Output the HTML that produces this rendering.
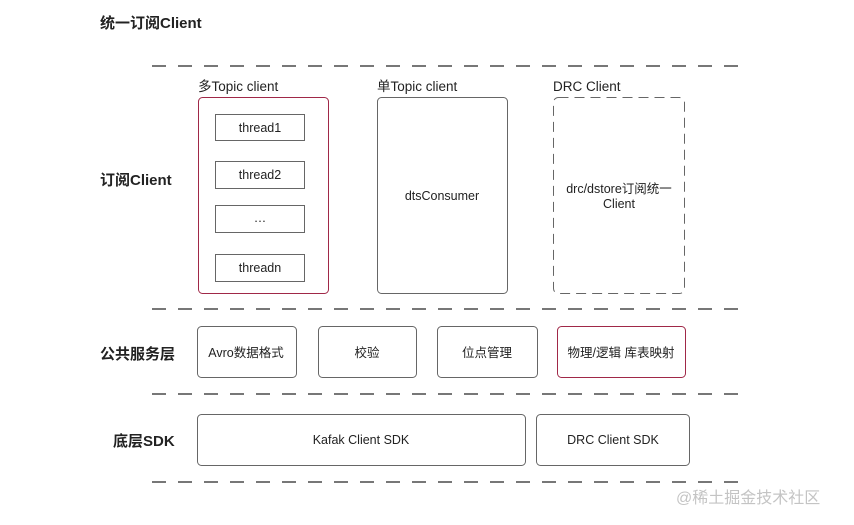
<!DOCTYPE html>
<html><head><meta charset="utf-8"><style>
body{margin:0;background:#fff;width:854px;height:525px;overflow:hidden}
svg{display:block}
text{font-family:"Liberation Sans","Noto Sans CJK SC",sans-serif;fill:#222}
</style></head><body>
<svg width="854" height="525" viewBox="0 0 854 525">
<g stroke="#777" stroke-width="2" stroke-dasharray="14,12" fill="none">
<line x1="152" y1="66" x2="738" y2="66"/>
<line x1="152" y1="309" x2="738" y2="309"/>
<line x1="152" y1="394" x2="738" y2="394"/>
<line x1="152" y1="482" x2="738" y2="482"/>
</g>
<g font-size="15" font-weight="bold">
<text x="100" y="28">统一订阅Client</text>
<text x="100" y="185">订阅Client</text>
<text x="100" y="359">公共服务层</text>
<text x="113" y="446">底层SDK</text>
</g>
<g font-size="13.5">
<text x="198" y="91">多Topic client</text>
<text x="377" y="91">单Topic client</text>
<text x="553" y="91">DRC Client</text>
</g>
<g fill="#fff" stroke="#666" stroke-width="1">
<rect x="198.5" y="97.5" width="130" height="196" rx="4" stroke="#a02848"/>
<rect x="215.5" y="114.5" width="89" height="26"/>
<rect x="215.5" y="161.5" width="89" height="27"/>
<rect x="215.5" y="205.5" width="89" height="27"/>
<rect x="215.5" y="254.5" width="89" height="27"/>
<rect x="377.5" y="97.5" width="130" height="196" rx="4"/>
<rect x="553.5" y="97.5" width="131" height="196" rx="5" stroke-dasharray="10,6"/>
<rect x="197.5" y="326.5" width="99" height="51" rx="4"/>
<rect x="318.5" y="326.5" width="98" height="51" rx="4"/>
<rect x="437.5" y="326.5" width="100" height="51" rx="4"/>
<rect x="557.5" y="326.5" width="128" height="51" rx="4" stroke="#a02848"/>
<rect x="197.5" y="414.5" width="328" height="51" rx="4"/>
<rect x="536.5" y="414.5" width="153" height="51" rx="4"/>
</g>
<g font-size="12.5" text-anchor="middle">
<text x="260" y="132">thread1</text>
<text x="260" y="179">thread2</text>
<text x="260" y="222">…</text>
<text x="260" y="272">threadn</text>
<text x="442" y="200">dtsConsumer</text>
<text x="619" y="193">drc/dstore订阅统一</text>
<text x="619" y="208">Client</text>
<text x="246" y="357">Avro数据格式</text>
<text x="367" y="357">校验</text>
<text x="487" y="357">位点管理</text>
<text x="621" y="357">物理/逻辑 库表映射</text>
<text x="361" y="444">Kafak Client SDK</text>
<text x="613" y="444">DRC Client SDK</text>
</g>
<text x="676" y="503" font-size="16" fill="#bbb" style="fill:#c4c4c4">@稀土掘金技术社区</text>
</svg>
</body></html>
